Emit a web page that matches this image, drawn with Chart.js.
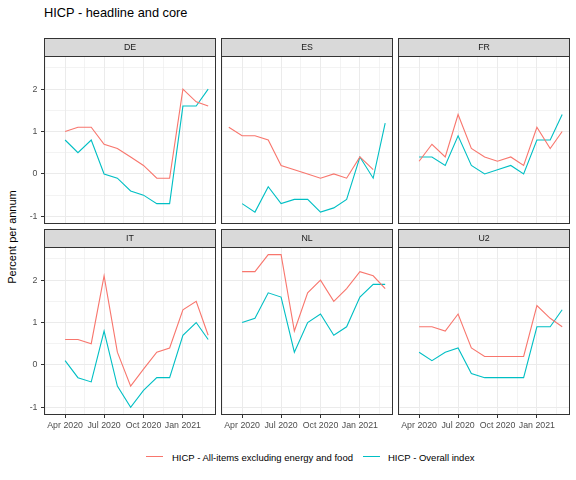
<!DOCTYPE html>
<html>
<head>
<meta charset="utf-8">
<script src="https://cdn.jsdelivr.net/npm/chart.js@4.4.1/dist/chart.umd.min.js"></script>
<style>
  html, body { margin: 0; padding: 0; background: #fff; }
  body { width: 576px; height: 480px; position: relative; overflow: hidden;
         font-family: "Liberation Sans", Arial, sans-serif; }
  .txt { position: absolute; white-space: nowrap; line-height: 1; }
  canvas { position: absolute; }
</style>
</head>
<body>
<div class="txt" style="left:44px; top:6.5px; font-size:12.8px; color:#000;">HICP - headline and core</div>
<div class="txt" style="left:11.5px; top:237px; font-size:11px; color:#000; transform:translate(-50%,-50%) rotate(-90deg);">Percent per annum</div>
<div id="legend"></div>
<div id="panels"></div>
<script>
// monthly observations, Mar 2020 .. Mar 2021 (null = no value)
const months = ['2020-03', '2020-04', '2020-05', '2020-06', '2020-07', '2020-08', '2020-09',
                '2020-10', '2020-11', '2020-12', '2021-01', '2021-02', '2021-03'];
const countries = ['DE', 'ES', 'FR', 'IT', 'NL', 'U2'];
const seriesNames = ['HICP - All-items excluding energy and food', 'HICP - Overall index'];
const seriesColors = ['#F8766D', '#00BFC4'];

// core (excl. energy and food)
const coreDE = [null, 1.0, 1.1, 1.1, 0.7, 0.6, 0.4, 0.2, -0.1, -0.1, 2.0, 1.7, 1.6];
const coreES = [1.1, 0.9, 0.9, 0.8, 0.2, 0.1, 0.0, -0.1, 0.0, -0.1, 0.4, 0.1, null];
const coreFR = [null, 0.3, 0.7, 0.4, 1.4, 0.6, 0.4, 0.3, 0.4, 0.2, 1.1, 0.6, 1.0];
const coreIT = [null, 0.6, 0.6, 0.5, 2.1, 0.3, -0.5, -0.1, 0.3, 0.4, 1.3, 1.5, 0.7];
const coreNL = [null, 2.2, 2.2, 2.6, 2.6, 0.8, 1.7, 2.0, 1.5, 1.8, 2.2, 2.1, 1.8];
const coreU2 = [null, 0.9, 0.9, 0.8, 1.2, 0.4, 0.2, 0.2, 0.2, 0.2, 1.4, 1.1, 0.9];

// headline (overall index)
const allDE = [null, 0.8, 0.5, 0.8, 0.0, -0.1, -0.4, -0.5, -0.7, -0.7, 1.6, 1.6, 2.0];
const allES = [null, -0.7, -0.9, -0.3, -0.7, -0.6, -0.6, -0.9, -0.8, -0.6, 0.4, -0.1, 1.2];
const allFR = [null, 0.4, 0.4, 0.2, 0.9, 0.2, 0.0, 0.1, 0.2, 0.0, 0.8, 0.8, 1.4];
const allIT = [null, 0.1, -0.3, -0.4, 0.8, -0.5, -1.0, -0.6, -0.3, -0.3, 0.7, 1.0, 0.6];
const allNL = [null, 1.0, 1.1, 1.7, 1.6, 0.3, 1.0, 1.2, 0.7, 0.9, 1.6, 1.9, 1.9];
const allU2 = [null, 0.3, 0.1, 0.3, 0.4, -0.2, -0.3, -0.3, -0.3, -0.3, 0.9, 0.9, 1.3];

const coreByCountry = [coreDE, coreES, coreFR, coreIT, coreNL, coreU2];
const allByCountry = [allDE, allES, allFR, allIT, allNL, allU2];

// axis breaks
const xTickMonths = ['2020-04', '2020-07', '2020-10', '2021-01'];
const xTickLabels = ['Apr 2020', 'Jul 2020', 'Oct 2020', 'Jan 2021'];
const yTicks = [-1, 0, 1, 2];

// dates -> days since 2020-01-01
const day = m => {
  const [y, mo] = m.split('-').map(Number);
  return (Date.UTC(y, mo - 1, 1) - Date.UTC(2020, 0, 1)) / 864e5;
};

// ggplot style 5% expansion of shared scales
const allVals = coreByCountry.concat(allByCountry).flat().filter(v => v !== null);
const yLo = Math.min(...allVals), yHi = Math.max(...allVals);
const yMin = yLo - 0.05 * (yHi - yLo), yMax = yHi + 0.05 * (yHi - yLo);
const xLo = day(months[0]), xHi = day(months[months.length - 1]);
const xMin = xLo - 0.05 * (xHi - xLo), xMax = xHi + 0.05 * (xHi - xLo);

// major + minor (midpoint) breaks
const xMajor = xTickMonths.map(day);
const xStep = xMajor[1] - xMajor[0];
const xAll = [];
xAll.push({ value: xMajor[0] - xStep / 2, minor: true });
xMajor.forEach((v, i) => {
  xAll.push({ value: v, minor: false, text: xTickLabels[i] });
  const next = i < xMajor.length - 1 ? xMajor[i + 1] : v + xStep;
  xAll.push({ value: (v + next) / 2, minor: true });
});
const yAll = [];
yTicks.forEach(v => {
  yAll.push({ value: v, minor: false });
  yAll.push({ value: v + 0.5, minor: true });
});

// layout in px
const colLeft = [44, 221, 398];
const stripTop = [38, 229];
const panelW = 172, panelH = 168, stripH = 18;
const ML = 34, MR = 2, MB = 26;

const FONT = '"Liberation Sans", Arial, sans-serif';
const GRID = '#EBEBEB', DARK = '#333333';

const panelDecor = {
  id: 'panelDecor',
  afterDraw(chart, args, opts) {
    const { ctx, chartArea: a } = chart;
    ctx.save();
    ctx.fillStyle = '#D9D9D9';
    ctx.fillRect(a.left, 0.5, a.right - a.left, a.top - 0.5);
    ctx.strokeStyle = DARK;
    ctx.lineWidth = 1;
    ctx.strokeRect(a.left + 0.5, 0.5, a.right - a.left - 1, a.top);
    ctx.strokeRect(a.left + 0.5, a.top + 0.5, a.right - a.left - 1, a.bottom - a.top - 1);
    ctx.fillStyle = '#1A1A1A';
    ctx.font = '8.8px ' + FONT;
    ctx.textAlign = 'center';
    ctx.textBaseline = 'middle';
    ctx.fillText(opts.label, (a.left + a.right) / 2, a.top / 2 + 1);
    ctx.restore();
  }
};

const holder = document.getElementById('panels');
countries.forEach((c, k) => {
  const row = Math.floor(k / 3), col = k % 3;
  const cv = document.createElement('canvas');
  const W = ML + panelW + MR, H = stripH + panelH + MB;
  cv.width = W; cv.height = H;
  cv.style.left = (colLeft[col] - ML) + 'px';
  cv.style.top = stripTop[row] + 'px';
  cv.style.width = W + 'px'; cv.style.height = H + 'px';
  holder.appendChild(cv);

  const leftCol = col === 0, bottomRow = row === 1;
  const toPts = arr => months.map((m, i) => ({ x: day(m), y: arr[i] })).filter(p => p.y !== null);

  new Chart(cv, {
    type: 'line',
    data: {
      datasets: [coreByCountry[k], allByCountry[k]].map((arr, s) => ({
        label: seriesNames[s],
        data: toPts(arr),
        borderColor: seriesColors[s],
        backgroundColor: seriesColors[s],
        borderWidth: 1.1,
        pointRadius: 0,
        tension: 0,
        fill: false
      }))
    },
    options: {
      responsive: false,
      animation: false,
      devicePixelRatio: 1,
      layout: { padding: { top: stripH, right: MR, left: 0, bottom: 0 } },
      plugins: {
        legend: { display: false },
        tooltip: { enabled: false },
        panelDecor: { label: c }
      },
      scales: {
        x: {
          type: 'linear',
          min: xMin, max: xMax,
          afterBuildTicks: s => { s.ticks = xAll.map(t => ({ value: t.value, minor: t.minor, text: t.text })); },
          afterFit: s => { s.height = MB; },
          border: { display: false },
          grid: {
            color: GRID,
            lineWidth: ctx => (ctx.tick && ctx.tick.minor) ? 0.6 : 1,
            drawTicks: bottomRow,
            tickLength: 3,
            tickColor: ctx => (ctx.tick && ctx.tick.minor) ? 'rgba(0,0,0,0)' : DARK,
            tickWidth: 1
          },
          ticks: {
            display: bottomRow,
            autoSkip: false,
            maxRotation: 0, minRotation: 0,
            padding: 2,
            color: '#4D4D4D',
            font: { family: FONT, size: 8.8 },
            callback: (v, i, ticks) => ticks[i].text || ''
          }
        },
        y: {
          type: 'linear',
          min: yMin, max: yMax,
          afterBuildTicks: s => { s.ticks = yAll.map(t => ({ value: t.value, minor: t.minor })); },
          afterFit: s => { s.width = ML; },
          border: { display: false },
          grid: {
            color: GRID,
            lineWidth: ctx => (ctx.tick && ctx.tick.minor) ? 0.6 : 1,
            drawTicks: leftCol,
            tickLength: 3,
            tickColor: ctx => (ctx.tick && ctx.tick.minor) ? 'rgba(0,0,0,0)' : DARK,
            tickWidth: 1
          },
          ticks: {
            display: leftCol,
            padding: 3.5,
            color: '#4D4D4D',
            font: { family: FONT, size: 8.8 },
            callback: (v, i, ticks) => ticks[i].minor ? '' : String(v)
          }
        }
      }
    },
    plugins: [panelDecor]
  });
});

// legend below the panels
const legend = document.getElementById('legend');
const keyX = [146, 363], textX = [172, 388];
seriesNames.forEach((name, s) => {
  const key = document.createElement('div');
  key.style.cssText = `position:absolute; left:${keyX[s]}px; top:456px; width:17px; height:0; border-top:1.1px solid ${seriesColors[s]};`;
  legend.appendChild(key);
  const t = document.createElement('div');
  t.className = 'txt';
  t.style.cssText += `left:${textX[s]}px; top:452.8px; font-size:9.5px; color:#000;`;
  t.textContent = name;
  legend.appendChild(t);
});
</script>
</body>
</html>
